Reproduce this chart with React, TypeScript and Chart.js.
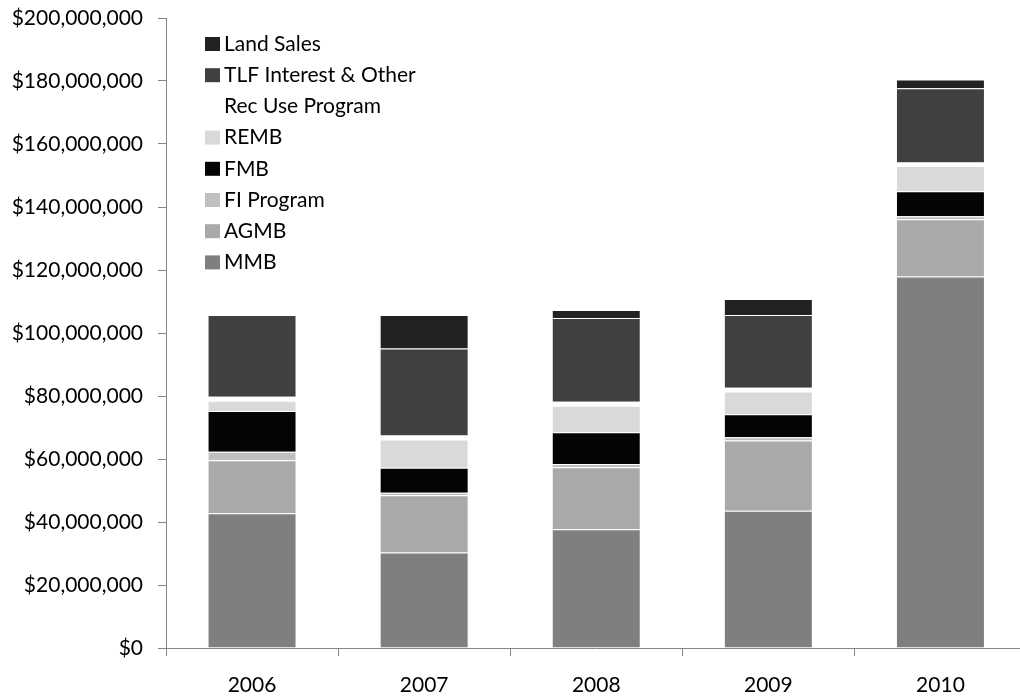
import React, { useEffect, useRef } from 'react';
import { Chart, registerables } from 'chart.js';

Chart.register(...registerables);

const years = ['2006', '2007', '2008', '2009', '2010'];

const mmb = [42.8e6, 30.3e6, 37.7e6, 43.6e6, 117.9e6];
const agmb = [16.8e6, 18.2e6, 19.7e6, 22.3e6, 18.2e6];
const fiProgram = [2.7e6, 0.8e6, 1.0e6, 1.0e6, 1.0e6];
const fmb = [12.9e6, 7.9e6, 10.1e6, 7.3e6, 7.9e6];
const remb = [3.3e6, 9.0e6, 8.4e6, 7.2e6, 8.0e6];
const recUse = [1.3e6, 1.3e6, 1.3e6, 1.2e6, 1.1e6];
const tlf = [25.9e6, 27.6e6, 26.6e6, 23.1e6, 23.6e6];
const landSales = [0, 10.6e6, 2.5e6, 5.1e6, 2.8e6];

const seriesLabels = ['MMB', 'AGMB', 'FI Program', 'FMB', 'REMB', 'Rec Use Program', 'TLF Interest & Other', 'Land Sales'];
const seriesValues = [mmb, agmb, fiProgram, fmb, remb, recUse, tlf, landSales];
const seriesColors = ['#7f7f7f', '#a9a9a9', '#bfbfbf', '#040404', '#d9d9d9', '#ffffff', '#404040', '#222222'];

const FONT = 'Lato, "Liberation Sans", sans-serif';

const insideLegend = {
  id: 'insideLegend',
  afterDraw(chart: any) {
    const { ctx, chartArea } = chart;
    const items = chart.data.datasets
      .map((d: any) => ({ label: d.label, color: d.backgroundColor }))
      .reverse();
    ctx.save();
    ctx.font = `21px ${FONT}`;
    ctx.textBaseline = 'middle';
    ctx.textAlign = 'left';
    items.forEach((it: any, i: number) => {
      const cy = chartArea.top + 26 + i * 31.2;
      const x = chartArea.left + 39;
      ctx.fillStyle = it.color;
      ctx.fillRect(x, cy - 7, 15, 14);
      ctx.fillStyle = '#000000';
      ctx.fillText(it.label, x + 19, cy);
    });
    ctx.restore();
  },
};

export default function App() {
  const canvasRef = useRef<HTMLCanvasElement | null>(null);

  useEffect(() => {
    const canvas = canvasRef.current;
    if (!canvas) return;
    const chart = new Chart(canvas, {
      type: 'bar',
      data: {
        labels: years,
        datasets: seriesLabels.map((label, i) => ({
          label,
          data: seriesValues[i],
          backgroundColor: seriesColors[i],
          borderColor: 'rgba(255,255,255,0.25)',
          borderWidth: 1,
          categoryPercentage: 1,
          barPercentage: 0.517,
        })),
      },
      options: {
        animation: false,
        responsive: true,
        maintainAspectRatio: false,
        layout: { padding: { left: 0, top: 18, right: 5.5, bottom: 0 } },
        plugins: {
          legend: { display: false },
          tooltip: { enabled: false },
        },
        scales: {
          x: {
            stacked: true,
            afterFit: (scale: any) => {
              scale.height = 50;
              scale.paddingLeft = 0;
              scale.paddingRight = 0;
            },
            grid: {
              offset: true,
              drawOnChartArea: false,
              drawTicks: true,
              tickLength: 8,
              color: '#868686',
            },
            border: { display: true, color: '#868686', width: 1 },
            ticks: {
              color: '#000000',
              padding: 17,
              font: { family: FONT, size: 21 },
            },
          },
          y: {
            stacked: true,
            min: 0,
            max: 200000000,
            afterFit: (scale: any) => {
              scale.width = 166;
              scale.paddingTop = 0;
              scale.paddingBottom = 0;
            },
            grid: {
              drawOnChartArea: false,
              drawTicks: true,
              tickLength: 8,
              color: '#868686',
            },
            border: { display: true, color: '#868686', width: 1 },
            ticks: {
              stepSize: 20000000,
              color: '#000000',
              padding: 15,
              font: { family: FONT, size: 21 },
              callback: (v: any) => '$' + Number(v).toLocaleString('en-US'),
            },
          },
        },
      },
      plugins: [insideLegend],
    });
    return () => chart.destroy();
  }, []);

  return (
    <div style={{ position: 'fixed', left: 0, top: 0, width: 1020, height: 698, overflow: 'hidden', background: '#ffffff' }}>
      <div style={{ position: 'absolute', left: 0, top: 0, width: 1032, height: 698 }}>
        <canvas ref={canvasRef} />
      </div>
    </div>
  );
}
